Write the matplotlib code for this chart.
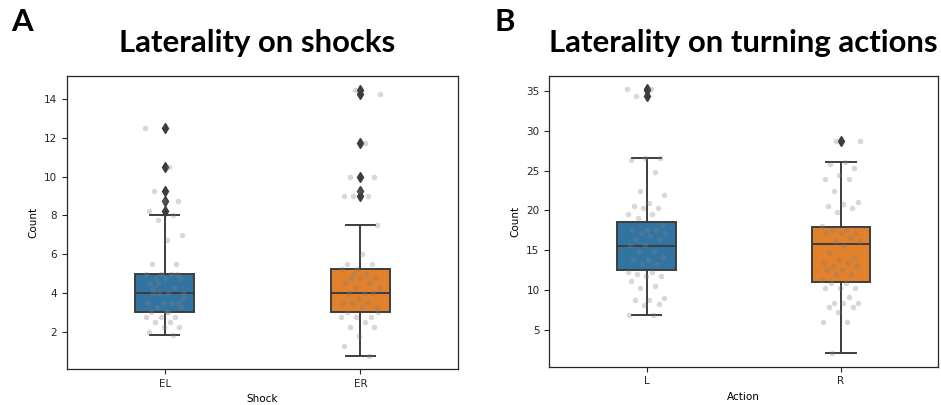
import numpy as np
import matplotlib
matplotlib.use("Agg")
import matplotlib.pyplot as plt

# ---------------- data ----------------
shock_categories = ["EL", "ER"]
action_categories = ["L", "R"]

EL_values = [12.5, 10.5, 9.25, 8.75, 8.75, 8.25, 8.0, 7.75, 7.0, 6.75, 5.5, 5.5,
             5.0, 5.0, 5.0, 4.75, 4.75, 4.75, 4.5, 4.25, 4.0, 4.0, 4.0, 4.0,
             3.5, 3.5, 3.5, 3.5, 3.25, 3.25, 3.0, 3.0, 2.75, 2.75, 2.75, 2.5, 2.5,
             2.25, 2.25, 2.0, 1.8, 4.5, 3.75, 3.0, 4.25, 5.0]
ER_values = [14.5, 14.25, 11.75, 10.0, 10.0, 9.25, 9.0, 9.0, 9.0, 7.5, 6.0, 5.5, 5.5,
             5.25, 5.25, 5.0, 4.75, 4.75, 4.75, 4.5, 4.5, 4.25, 4.25, 4.0, 4.0, 4.0,
             3.75, 3.5, 3.5, 3.5, 3.25, 3.25, 3.0, 2.75, 2.75, 2.75, 2.5, 2.25, 2.25,
             1.75, 1.25, 0.75, 5.0, 3.0]
L_values = [35.3, 35.3, 34.4, 26.6, 26.6, 26.3, 24.8, 22.5, 21.9, 20.9, 20.5, 20.3, 20.3,
            19.5, 19.5, 19.1, 18.2, 17.6, 17.6, 17.6, 17.2, 17.2, 16.8, 16.4, 16.4,
            15.6, 15.6, 14.9, 14.9, 14.2, 13.8, 13.8, 13.2, 13.2, 12.3, 12.3, 12.0,
            11.8, 11.8, 11.1, 10.5, 10.2, 9.0, 8.7, 8.7, 8.2, 8.1, 6.8, 6.8]
R_values = [28.75, 28.75, 26.1, 25.8, 25.3, 24.5, 24.0, 24.0, 22.5, 21.1, 20.8, 20.5, 20.3,
            19.8, 18.1, 17.6, 17.6, 17.2, 17.2, 17.2, 16.5, 16.1, 16.1, 15.5, 14.6,
            14.2, 13.8, 13.4, 13.4, 13.0, 13.0, 12.5, 12.5, 12.0, 12.0, 11.3, 10.9,
            10.9, 10.2, 10.2, 10.2, 9.1, 8.3, 8.3, 8.3, 7.8, 7.8, 7.2, 6.0, 6.0, 2.1]

# box statistics
shock_q1 = [3.0, 3.0]
shock_med = [4.0, 4.0]
shock_q3 = [5.0, 5.25]
shock_whislo = [1.8, 0.75]
shock_whishi = [8.0, 7.5]
shock_fliers = [[12.5, 10.5, 9.25, 8.75, 8.25], [14.5, 14.25, 11.75, 10.0, 9.25, 9.0]]

action_q1 = [12.5, 11.0]
action_med = [15.5, 15.75]
action_q3 = [18.5, 17.9]
action_whislo = [6.8, 2.1]
action_whishi = [26.6, 26.1]
action_fliers = [[35.3, 35.1, 34.4], [28.75]]

colors = ["#3274a1", "#e1812c"]
line_c = "#3d3d3d"

plt.rcParams["font.family"] = ["DejaVu Sans"]

fig = plt.figure(figsize=(9.41, 4.05), dpi=100)
axA = fig.add_axes([0.0709, 0.0889, 0.4162, 0.7234])
axB = fig.add_axes([0.5837, 0.0946, 0.4134, 0.7177])


def draw(ax, cats, values, q1, med, q3, wlo, whi, fl, xlabel):
    stats = []
    for i in range(len(cats)):
        stats.append(dict(med=med[i], q1=q1[i], q3=q3[i], whislo=wlo[i],
                          whishi=whi[i], fliers=fl[i], label=cats[i]))
    bp = ax.bxp(stats, positions=range(len(cats)), widths=0.3, patch_artist=True,
                showfliers=True,
                boxprops=dict(edgecolor=line_c, linewidth=1.4),
                medianprops=dict(color=line_c, linewidth=1.4),
                whiskerprops=dict(color=line_c, linewidth=1.4),
                capprops=dict(color=line_c, linewidth=1.4),
                flierprops=dict(marker="d", markerfacecolor=line_c,
                                markeredgecolor=line_c, markersize=5.5))
    for patch, c in zip(bp["boxes"], colors):
        patch.set_facecolor(c)
    golden = 0.6180339887
    for i, vals in enumerate(values):
        n = len(vals)
        offs = ((np.arange(n) * golden + 0.37 * i) % 1.0 - 0.5) * 0.2
        ax.scatter(i + offs, vals, s=16, color="gray", alpha=0.3,
                   linewidths=0, zorder=5)
    ax.set_xlim(-0.5, len(cats) - 0.5)
    ax.set_xticks(range(len(cats)))
    ax.set_xticklabels(cats)
    ax.set_xlabel(xlabel, fontsize=7.5, labelpad=4)
    ax.set_ylabel("Count", fontsize=7.5, labelpad=4)
    ax.tick_params(labelsize=7.5, length=3.5, width=0.8, colors="#262626")
    for s in ax.spines.values():
        s.set_color("#262626")
        s.set_linewidth(0.9)


draw(axA, shock_categories, [EL_values, ER_values], shock_q1, shock_med, shock_q3,
     shock_whislo, shock_whishi, shock_fliers, "Shock")
axA.set_ylim(0.07, 15.2)
axA.set_yticks([2, 4, 6, 8, 10, 12, 14])

draw(axB, action_categories, [L_values, R_values], action_q1, action_med, action_q3,
     action_whislo, action_whishi, action_fliers, "Action")
axB.set_ylim(0.35, 36.9)
axB.set_yticks([5, 10, 15, 20, 25, 30, 35])

title_font = dict(family=["Lato", "DejaVu Sans"], fontweight="bold", fontsize=22.4)
fig.text(0.273, 0.893, "Laterality on shocks", ha="center", va="center", **title_font)
fig.text(0.790, 0.893, "Laterality on turning actions", ha="center", va="center", **title_font)
fig.text(0.012, 0.945, "A", ha="left", va="center", **title_font)
fig.text(0.525, 0.945, "B", ha="left", va="center", **title_font)

fig.savefig("out.png", dpi=100)
